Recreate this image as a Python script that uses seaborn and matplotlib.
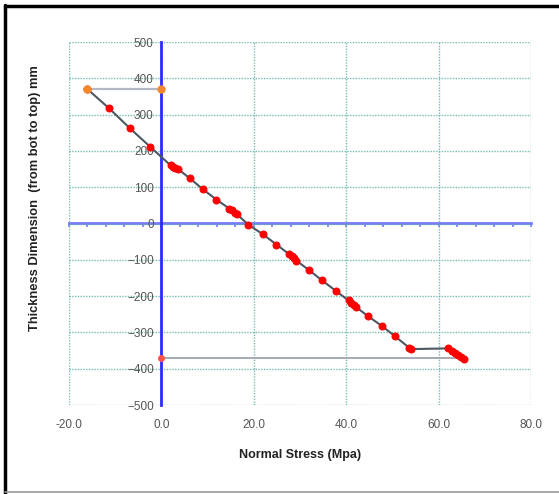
import numpy as np
import pandas as pd
import seaborn as sns
import matplotlib.pyplot as plt
from matplotlib.lines import Line2D
from matplotlib.ticker import MultipleLocator, NullFormatter

# stress profile through the thickness
stress = [-16.0, -11.3, -6.8, -2.4, 2.0, 2.5, 3.0, 3.5, 6.2, 9.0, 11.9,
          14.7, 15.3, 15.9, 16.4, 18.8, 22.0, 24.9, 27.7, 28.2, 28.7, 29.2,
          32.0, 34.8, 37.9, 40.5, 41.1, 41.6, 42.2, 44.8, 47.8, 50.6, 53.6,
          54.1, 62.1, 62.8, 63.5, 64.2, 64.8, 65.4]
thickness = [370, 317, 262, 211, 160, 157, 154, 151, 124, 94, 66,
             41, 36, 30, 25, -3, -30, -58, -85, -90, -96, -102,
             -129, -157, -187, -212, -218, -224, -231, -256, -283, -311, -342,
             -346, -344, -350, -356, -362, -367, -372]

# top / bottom surface markers
top_x = [-16.0, 0.0]
top_y = [370, 370]
bot_x = [0.0, 64.5]
bot_y = [-370, -370]

df = pd.DataFrame({'stress': stress, 'thickness': thickness})

sns.set_style("white")
plt.rcParams['font.family'] = ['Liberation Sans', 'DejaVu Sans']

fig = plt.figure(figsize=(5.59, 4.94), dpi=100)
ax = fig.add_axes([69/559, 1-405/494, (531-69)/559, (405-42)/494])

# gray surface lines
ax.plot(top_x, top_y, color='#b4b8c4', lw=1.6, zorder=2)
ax.plot(bot_x, bot_y, color='#a6aab6', lw=1.4, zorder=2)

sns.lineplot(data=df, x='stress', y='thickness', sort=False, estimator=None,
             color='#4c5862', lw=1.5, marker='o', markersize=5,
             markerfacecolor='red', markeredgecolor='red', ax=ax, zorder=3)

ax.plot(top_x, top_y, ls='none', marker='o', ms=5, color='#f5882a', zorder=4)
ax.plot(bot_x[:1], bot_y[:1], ls='none', marker='o', ms=4, color='#ff5050', zorder=4)

ax.set_xlim(-20, 80)
ax.set_ylim(-500, 500)
ax.xaxis.set_major_locator(MultipleLocator(20))
ax.yaxis.set_major_locator(MultipleLocator(100))
ax.yaxis.set_minor_locator(MultipleLocator(20))
ax.xaxis.set_major_formatter(lambda v, p: f"{v:.1f}")

ax.grid(True, which='major', color='#52ad9f', ls=(0, (1, 1)), lw=1.0, alpha=0.8)
ax.set_axisbelow(True)
for s in ['top', 'right', 'bottom']:
    ax.spines[s].set_visible(False)

# vertical axis sits at x = 0
ax.spines['left'].set_position(('data', 0))
ax.spines['left'].set_color('#2b2bff')
ax.spines['left'].set_linewidth(2)
ax.spines['left'].set_zorder(2.5)
ax.tick_params(axis='y', which='both', direction='inout', color='#2b2bff',
               width=1.2, labelsize=8.5, labelcolor='#555555', pad=3)
ax.tick_params(axis='y', which='major', length=5)
ax.tick_params(axis='y', which='minor', length=4)
ax.tick_params(axis='x', length=0, labelsize=8.5, labelcolor='#555555', pad=10)

# horizontal axis sits at y = 0
sec = ax.secondary_xaxis(0.5)
for sp in sec.spines.values():
    sp.set_color('#7a7aff')
    sp.set_linewidth(2)
sec.xaxis.set_major_locator(MultipleLocator(20))
sec.xaxis.set_minor_locator(MultipleLocator(4))
sec.xaxis.set_major_formatter(NullFormatter())
sec.xaxis.set_minor_formatter(NullFormatter())
sec.tick_params(axis='x', which='both', direction='in', length=3,
                color='#7a7aff', width=1.2, labeltop=False, labelbottom=False)

ax.set_xlabel('')
ax.set_ylabel('')
fig.text(300/559, 1-455/494, 'Normal Stress (Mpa)', ha='center', va='center',
         fontsize=9, fontweight='bold', color='#222222')
fig.text(35/559, 1-198/494, 'Thickness Dimension  (from bot to top) mm',
         ha='center', va='center', rotation=90, fontsize=9.3,
         fontweight='bold', color='#222222')

# chart frame
fig.add_artist(Line2D([5/559, 5/559], [0, 1-5/494], transform=fig.transFigure,
                      color='black', lw=2.5))
fig.add_artist(Line2D([5/559, 1], [1-6/494, 1-6/494], transform=fig.transFigure,
                      color='black', lw=2.5))
fig.add_artist(Line2D([5/559, 1], [1-492/494, 1-492/494], transform=fig.transFigure,
                      color='#999999', lw=1.2))

fig.savefig('out.png', dpi=100)
